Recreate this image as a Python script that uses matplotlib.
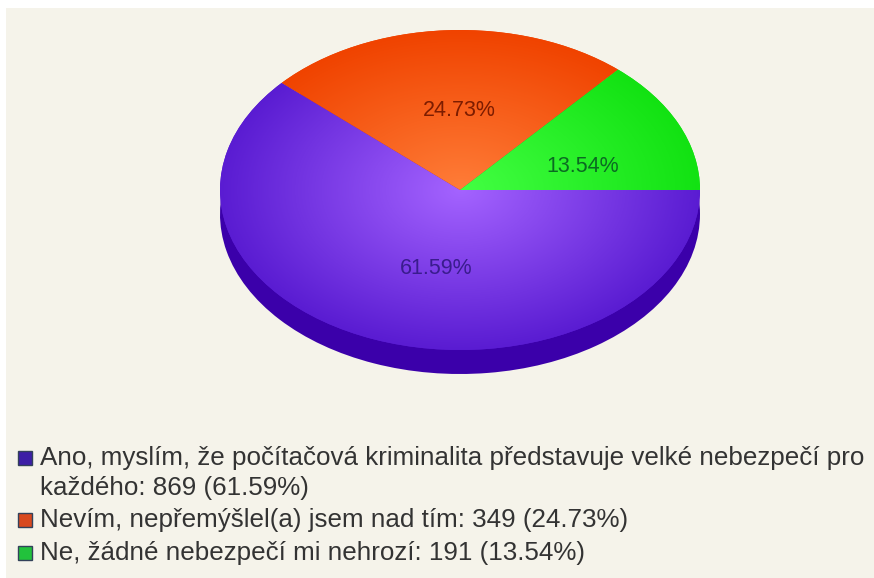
import numpy as np
import matplotlib
matplotlib.use('Agg')
import matplotlib.pyplot as plt
from matplotlib.colors import LinearSegmentedColormap
from matplotlib.patches import Rectangle

W, H = 874, 578

# survey answers
labels = ['Ano, myslím, že počítačová kriminalita představuje velké nebezpečí pro\nkaždého: 869 (61.59%)',
          'Nevím, nepřemýšlel(a) jsem nad tím: 349 (24.73%)',
          'Ne, žádné nebezpečí mi nehrozí: 191 (13.54%)']
percent = [61.59, 24.73, 13.54]
inner = ['#a463ff', '#ff7d38', '#43ff43']
outer = ['#5a1cd2', '#f04300', '#12e212']
side = '#3b00aa'
text_col = ['#3a1c8e', '#7c1c00', '#0b6a22']
box_col = ['#3c1ea6', '#d8491f', '#22c23c']

label_xy = [(436, 269), (459, 111), (583, 167)]
legend_y = [458, 520, 553]

fig = plt.figure(figsize=(W / 100, H / 100), dpi=100, facecolor='white')
plt.rcParams['font.family'] = ['Liberation Sans', 'DejaVu Sans']

# page background, leaves a thin white strip top and left
fig.add_artist(Rectangle((6 / W, 0), (W - 6) / W, (H - 8) / H, color='#f5f3ea', lw=0,
                         transform=fig.transFigure, zorder=-1))

# axes box is the bounding box of the top ellipse
ax = fig.add_axes([220 / W, 1 - 350 / H, 480 / W, 320 / H], zorder=1)

# dark rim below the top face
ax.pie(percent, radius=1, center=(0, -0.15), startangle=0, counterclock=False,
       colors=[side] * 3, wedgeprops={'linewidth': 0, 'zorder': 1})
top, _ = ax.pie(percent, radius=1, center=(0, 0), startangle=0, counterclock=False,
                colors=outer, wedgeprops={'linewidth': 0, 'zorder': 2})
ax.set_aspect('auto')
ax.set_xlim(-1, 1)
ax.set_ylim(-1, 1)
for art in ax.patches:
    art.set_clip_on(False)

# radial shading clipped to every wedge
xx, yy = np.meshgrid(np.linspace(-1, 1, 480), np.linspace(-1, 1, 320))
rr = np.clip(np.sqrt(xx ** 2 + yy ** 2), 0, 1)
for wedge, c0, c1 in zip(top, inner, outer):
    cmap = LinearSegmentedColormap.from_list('shade', [c0, c1])
    im = ax.imshow(rr, extent=(-1, 1, -1, 1), origin='lower', cmap=cmap, vmin=0, vmax=1,
                   aspect='auto', zorder=3, interpolation='bilinear')
    im.set_clip_path(wedge)

# pixel axes for all the text on top
fg = fig.add_axes([0, 0, 1, 1], zorder=2)
fg.set_xlim(0, W)
fg.set_ylim(H, 0)
fg.axis('off')

for p, (x, y), c in zip(percent, label_xy, text_col):
    fg.text(x, y, '%.2f%%' % p, color=c, fontsize=15.5, ha='center', va='center')

# legend under the pie
for lab, y, c in zip(labels, legend_y, box_col):
    fg.add_patch(Rectangle((18, y - 7), 14, 14, fc=c, ec='#33415a', lw=1))
    fg.text(40, y - 12, lab, color='#333333', fontsize=18.7, ha='left', va='top', linespacing=1.3)

fig.savefig('out.png', dpi=100, facecolor=fig.get_facecolor())
